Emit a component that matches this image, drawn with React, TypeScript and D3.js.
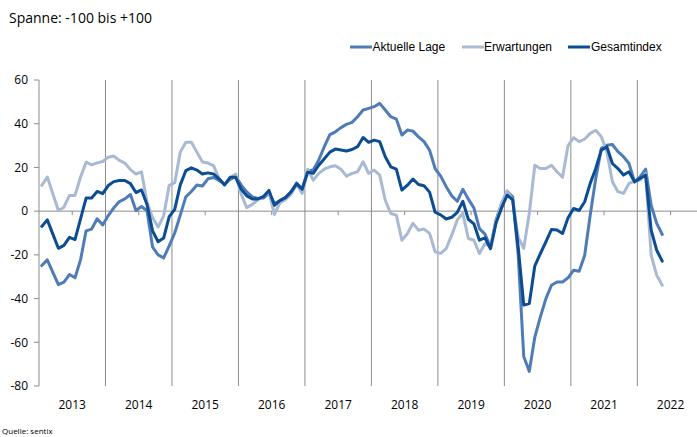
import React from "react";
import * as d3 from "d3";

const years = ["2013", "2014", "2015", "2016", "2017", "2018", "2019", "2020", "2021", "2022"];
const yTicks = [60, 40, 20, 0, -20, -40, -60, -80];

// monthly values, Jan 2013 – May 2022
const aktuelleLage = [
  -24.9, -22.3, -28, -33.6, -32.5, -29, -30.5, -22.3, -9, -8.2, -3.5, -6.3,
  -2, 1.5, 4.4, 5.6, 7.6, 0.3, 2.1, 0.2, -16.4, -20, -21.4, -15.9,
  -10, -1.8, 6.5, 9, 12, 11.5, 14.8, 15.4, 14, 12.4, 14.5, 16,
  11.9, 8.8, 6.5, 5.8, 6, 8.2, 3.5, 4.8, 6.2, 8.7, 12.9, 10.2,
  18.4, 18.8, 23.4, 29.5, 35, 36.3, 38.2, 39.7, 40.6, 43.2, 46.3, 47,
  47.8, 49.3, 46.3, 43.2, 42.1, 34.8, 37.1, 36.6, 34, 31.8, 27.9, 19.5,
  16, 11.2, 7, 4.5, 10, 5.5, 1.5, -8, -10.5, -16.4, -4, 3.5,
  9.1, 6.6, -20, -66.5, -73.3, -57.6, -48.4, -40, -33.9, -32.4, -32.4, -30.5,
  -27, -27.5, -20.2, -1.8, 15, 28.7, 30.2, 30.5, 27.2, 24.9, 21.8, 13.4,
  15.7, 19.2, 2.7, -5.6, -10.7,
];

const erwartungen = [
  11.8, 15.6, 7.9, 0.3, 1.8, 7.2, 7.2, 15.6, 22.4, 21.2, 22.1, 22.7,
  24.7, 25.2, 23.2, 22, 19, 17, 18, 4.2, -3, -7.3, -2.2, 11.8,
  13, 27, 31.5, 31.5, 27, 22.5, 22, 20.8, 15, 12, 15.2, 17,
  7.7, 1.6, 3.1, 5.2, 6.6, 8.9, -1.5, 3.9, 5.4, 7.7, 12.2, 8.1,
  19.2, 14.2, 17.3, 19.2, 20.3, 20.8, 19.2, 16, 17.3, 18, 22.6, 17.3,
  18.8, 16.5, 5, -1.1, -1.8, -13.3, -10.2, -5.6, -8.7, -8.2, -10.2, -18.6,
  -19.3, -17.1, -11, -4, -1, -12.5, -13.3, -19.4, -14.8, -16.3, -4.9, 3.5,
  9.3, 5, -12, -17, -1, 21, 19.5, 19.5, 21, 18, 15.5, 30,
  33.6, 31.8, 33, 35.6, 37, 34, 27.2, 13.4, 8.9, 8.1, 12.7, 13.7,
  14.2, 17.3, -20.2, -29.3, -33.9,
];

const gesamtindex = [
  -7, -4, -10.5, -17, -15.7, -12, -13, -3.5, 6, 6, 9, 8,
  11.7, 13.5, 14, 14, 12.6, 8.5, 9.7, 3, -9, -14, -12.3, -2.5,
  0.8, 12, 18.5, 19.8, 18.8, 17, 17.5, 17, 14.8, 12, 15.5, 15.5,
  10, 7, 5.6, 5.6, 6.6, 9.5, 2.7, 4.8, 6.2, 8.8, 12.5, 10,
  17.8, 17.3, 21, 24, 27, 28.4, 28, 27.5, 28.2, 29.5, 33.7, 31.5,
  32.5, 31.8, 24.9, 20.3, 19.2, 9.6, 11.9, 14.7, 12.2, 11.6, 8.7, -0.5,
  -1.7, -3.6, -2.8, -0.6, 4.5, -3.7, -5.8, -13.3, -12.2, -17.2, -5.4, 1.5,
  7.3, 5.2, -16.5, -43, -42.3, -25, -19.4, -14, -8.4, -8.6, -10.2, -3,
  1.2, 0.3, 4.3, 12.7, 19.5, 27.9, 29.5, 21.8, 19.5, 16.5, 18, 13.4,
  15, 16.5, -8.7, -17.9, -22.9,
];

const seriesNames = ["Aktuelle Lage", "Erwartungen", "Gesamtindex"];
const seriesColors = ["#4f7cb7", "#a8bad3", "#0b4c93"];

const W = 697;
const H = 437;
const left = 39;
const monthW = 5.54;
const top = 80;
const bottom = 386;

export default function App() {
  const x = d3.scaleLinear().domain([0, 120]).range([left, left + 120 * monthW]);
  const y = d3.scaleLinear().domain([-80, 60]).range([bottom, top]);
  const line = d3
    .line<number>()
    .x((_, i) => x(i + 0.5))
    .y((d) => y(d));
  const data = [aktuelleLage, erwartungen, gesamtindex];
  const gridColor = "#8c8c8c";
  const tickFont = "'Open Sans', sans-serif";

  return (
    <svg
      width={W}
      height={H}
      style={{ position: "absolute", left: 0, top: 0, background: "#fff" }}
    >
      <text x={9} y={23} fontFamily={tickFont} fontSize={14} fill="#000">
        Spanne: -100 bis +100
      </text>

      {/* legend */}
      {[
        { lx: 350, tx: 372.5 },
        { lx: 462, tx: 484 },
        { lx: 568, tx: 591 },
      ].map((p, i) => (
        <g key={seriesNames[i]}>
          <line x1={p.lx} x2={p.lx + 22} y1={47} y2={47} stroke={seriesColors[i]} strokeWidth={3} />
          <text x={p.tx} y={51} fontFamily="'Liberation Sans', Arial, sans-serif" fontSize={12} fill="#000">
            {seriesNames[i]}
          </text>
        </g>
      ))}

      {/* year gridlines */}
      {years.slice(1).map((yr, k) => (
        <line
          key={"g" + yr}
          x1={x(12 * (k + 1))}
          x2={x(12 * (k + 1))}
          y1={top}
          y2={bottom}
          stroke={gridColor}
          strokeWidth={1}
        />
      ))}

      {/* y axis */}
      <line x1={left} x2={left} y1={top} y2={bottom} stroke={gridColor} strokeWidth={1} />
      {yTicks.map((t) => (
        <g key={"yt" + t}>
          <line x1={left - 5} x2={left} y1={y(t)} y2={y(t)} stroke={gridColor} strokeWidth={1} />
          <text
            x={28}
            y={y(t)}
            dy="0.36em"
            textAnchor="end"
            fontFamily={tickFont}
            fontSize={12}
            fill="#000"
          >
            {t}
          </text>
        </g>
      ))}

      {/* zero axis with mid-year ticks */}
      <line x1={left} x2={W} y1={y(0)} y2={y(0)} stroke={gridColor} strokeWidth={1} />
      {years.map((yr, k) => (
        <line
          key={"mt" + yr}
          x1={x(12 * k + 6)}
          x2={x(12 * k + 6)}
          y1={y(0)}
          y2={y(0) + 4}
          stroke={gridColor}
          strokeWidth={1}
        />
      ))}

      {/* year labels */}
      {years.map((yr, k) => (
        <text
          key={"yl" + yr}
          x={x(12 * k + 6)}
          y={409}
          textAnchor="middle"
          fontFamily={tickFont}
          fontSize={12}
          fill="#000"
        >
          {yr}
        </text>
      ))}

      {/* series */}
      {data.map((s, i) => (
        <path
          key={seriesNames[i]}
          d={line(s) || ""}
          fill="none"
          stroke={seriesColors[i]}
          strokeWidth={3}
          strokeLinejoin="round"
          strokeLinecap="round"
        />
      ))}

      <text x={2} y={434} fontFamily={tickFont} fontSize={8} fill="#000">
        Quelle: sentix
      </text>
    </svg>
  );
}
